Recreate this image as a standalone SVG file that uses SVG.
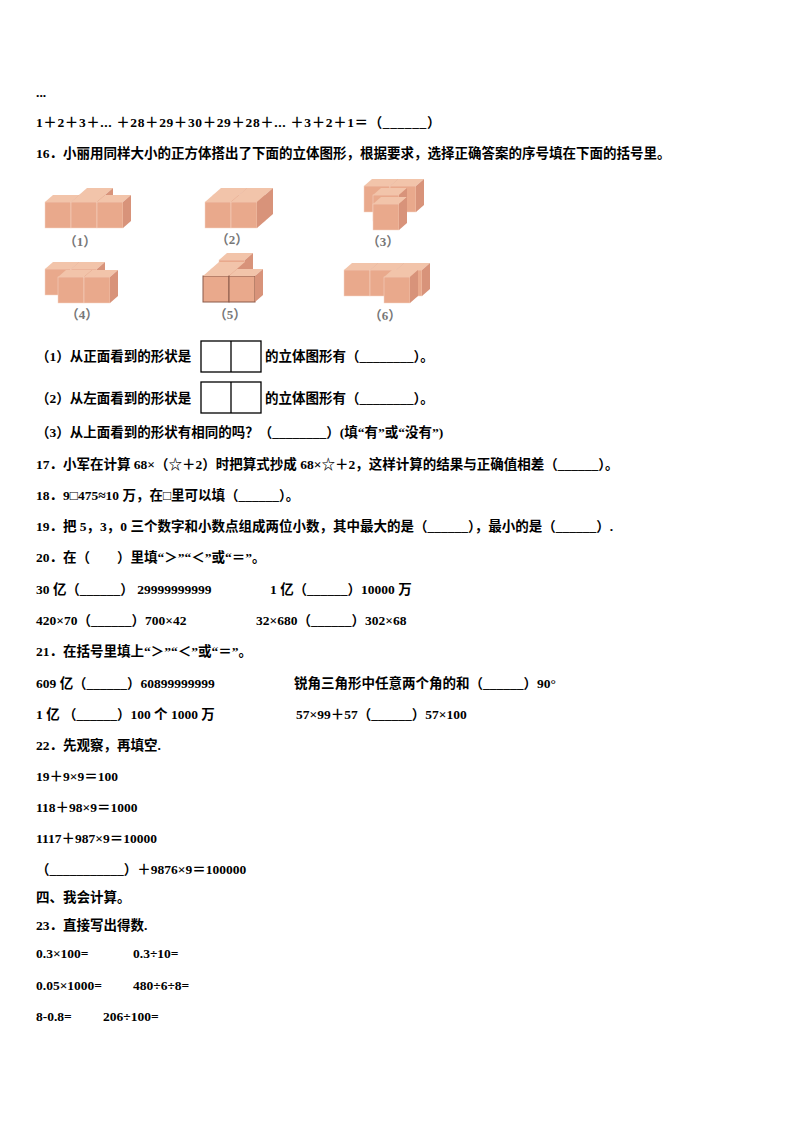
<svg xmlns="http://www.w3.org/2000/svg" xmlns:xlink="http://www.w3.org/1999/xlink" width="794" height="1123" viewBox="0 0 794 1123">
<style>
text{font-family:"Liberation Serif","Noto Sans CJK SC",serif;font-size:13.5px;font-weight:bold;fill:#000}
.lab{fill:#777;font-size:13px}
.f{fill:#e9a98c}.t{fill:#f2c4aa}.r{fill:#d8937a}
</style>
<defs>
<g id="cube"><rect class="f" x="0" y="8" width="26" height="26" stroke="#f5d5c5" stroke-width="0.5"/><polygon class="t" points="0,8 8,1 34,1 26,8"/><polygon class="r" points="26,8 34,1 34,27 26,34"/></g>
<g id="cubeb"><rect class="f" x="0" y="8" width="26" height="26" stroke="#8a5a4a" stroke-width="1"/><polygon class="t" points="0,8 8,1 34,1 26,8"/><polygon class="r" points="26,8 34,1 34,27 26,34"/></g>
</defs>
<rect width="794" height="1123" fill="#fff"/>
<text x="36" y="97">...</text>
<text x="36" y="127" letter-spacing="0.6">1＋2＋3＋... ＋28＋29＋30＋29＋28＋... ＋3＋2＋1＝（______）</text>
<text x="36" y="158">16．小丽用同样大小的正方体搭出了下面的立体图形，根据要求，选择正确答案的序号填在下面的括号里。</text>
<g id="fig1"><use xlink:href="#cube" x="79" y="187"/><use xlink:href="#cube" x="45" y="194"/><use xlink:href="#cube" x="71" y="194"/><use xlink:href="#cube" x="97" y="194"/><text class="lab" x="80" y="246" text-anchor="middle">（1）</text></g>
<g id="fig2"><use xlink:href="#cube" x="213" y="187"/><use xlink:href="#cube" x="239" y="187"/><use xlink:href="#cube" x="205" y="194"/><use xlink:href="#cube" x="231" y="194"/><text class="lab" x="232" y="244" text-anchor="middle">（2）</text></g>
<g id="fig3"><use xlink:href="#cube" x="364" y="178"/><use xlink:href="#cube" x="390" y="178"/><use xlink:href="#cube" x="373" y="187"/><use xlink:href="#cube" x="373" y="196"/><text class="lab" x="383" y="246" text-anchor="middle">（3）</text></g>
<g id="fig4"><use xlink:href="#cube" x="45" y="261"/><use xlink:href="#cube" x="71" y="261"/><use xlink:href="#cube" x="58" y="269"/><use xlink:href="#cube" x="84" y="269"/><text class="lab" x="82" y="319" text-anchor="middle">（4）</text></g>
<g id="fig5"><use xlink:href="#cube" x="219" y="252"/><use xlink:href="#cube" x="211" y="261"/><use xlink:href="#cubeb" x="203" y="268"/><use xlink:href="#cubeb" x="229" y="268"/><text class="lab" x="230" y="319" text-anchor="middle">（5）</text></g>
<g id="fig6"><use xlink:href="#cube" x="344" y="262"/><use xlink:href="#cube" x="370" y="262"/><use xlink:href="#cube" x="396" y="262"/><use xlink:href="#cube" x="384" y="269"/><text class="lab" x="385" y="320" text-anchor="middle">（6）</text></g>
<text x="36" y="361">（1）从正面看到的形状是</text>
<g id="box1" fill="none" stroke="#000" stroke-width="1.3"><rect x="201" y="341" width="60" height="31"/><line x1="231" y1="341" x2="231" y2="372"/></g>
<text x="265" y="361">的立体图形有（________）。</text>
<text x="36" y="403">（2）从左面看到的形状是</text>
<g id="box2" fill="none" stroke="#000" stroke-width="1.3"><rect x="201" y="382" width="60" height="31"/><line x1="231" y1="382" x2="231" y2="413"/></g>
<text x="265" y="403">的立体图形有（________）。</text>
<text x="36" y="437">（3）从上面看到的形状有相同的吗？（________）(填“有”或“没有”)</text>
<text x="36" y="469">17．小军在计算 68×（☆＋2）时把算式抄成 68×☆＋2，这样计算的结果与正确值相差（______）。</text>
<text x="36" y="500">18．9□475≈10 万，在□里可以填（______）。</text>
<text x="36" y="531">19．把 5，3，0 三个数字和小数点组成两位小数，其中最大的是（______），最小的是（______）.</text>
<text x="36" y="562">20．在（　　）里填“＞”“＜”或“＝”。</text>
<text x="36" y="594">30 亿（______）  29999999999</text>
<text x="270" y="594">1 亿（______）10000 万</text>
<text x="36" y="625">420×70（______）700×42</text>
<text x="256" y="625">32×680（______）302×68</text>
<text x="36" y="656">21．在括号里填上“＞”“＜”或“＝”。</text>
<text x="36" y="688">609 亿（______）60899999999</text>
<text x="294" y="688">锐角三角形中任意两个角的和（______）90°</text>
<text x="36" y="719">1 亿 （______）100 个 1000 万</text>
<text x="296" y="719">57×99＋57（______）57×100</text>
<text x="36" y="750">22．先观察，再填空.</text>
<text x="36" y="781">19＋9×9＝100</text>
<text x="36" y="812">118＋98×9＝1000</text>
<text x="36" y="843">1117＋987×9＝10000</text>
<text x="36" y="874">（___________）＋9876×9＝100000</text>
<text x="36" y="902">四、我会计算。</text>
<text x="36" y="930">23．直接写出得数.</text>
<text x="36" y="958">0.3×100=</text>
<text x="133" y="958">0.3÷10=</text>
<text x="36" y="990">0.05×1000=</text>
<text x="133" y="990">480÷6÷8=</text>
<text x="36" y="1021">8-0.8=</text>
<text x="103" y="1021">206÷100=</text>
</svg>
